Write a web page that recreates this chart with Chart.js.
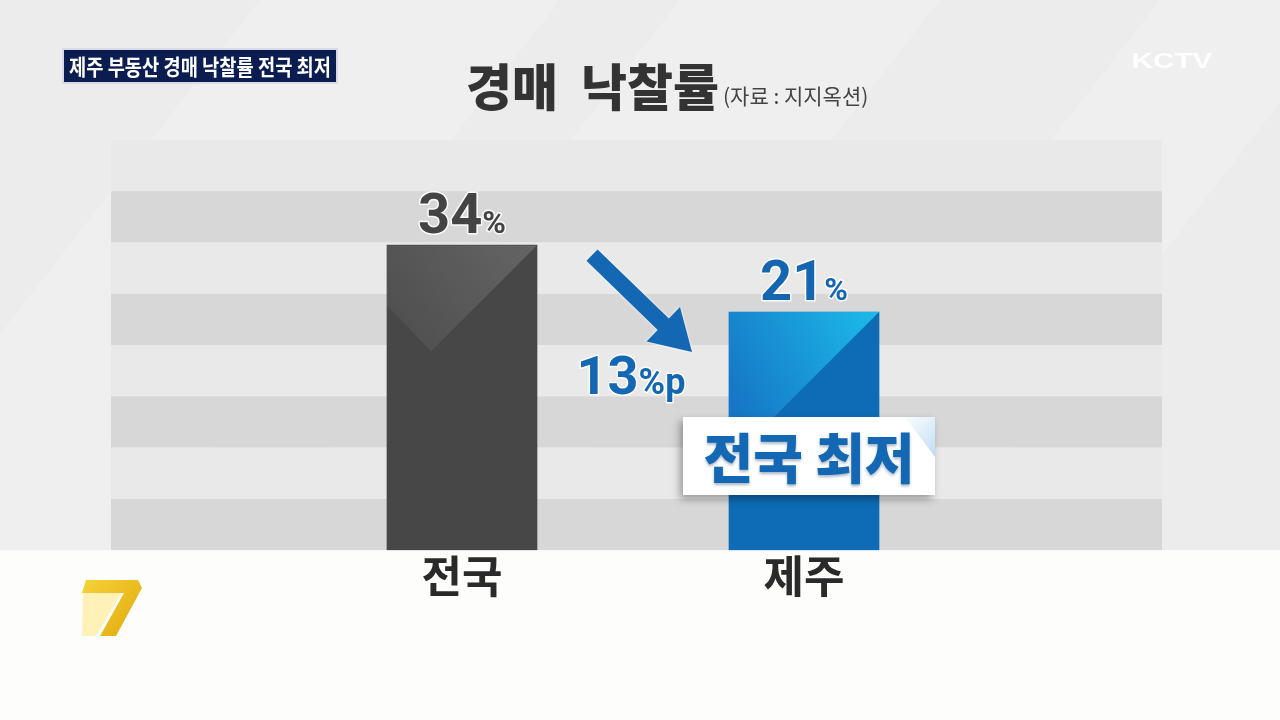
<!DOCTYPE html>
<html>
<head>
<meta charset="utf-8">
<script src="https://cdn.jsdelivr.net/npm/chart.js@4.4.0/dist/chart.umd.min.js"></script>
<style>
  html, body { margin: 0; padding: 0; background: #ededed; }
  #wrap { width: 1280px; height: 720px; }
</style>
</head>
<body>
<div id="wrap"><canvas id="auction_chart" width="1280" height="720"></canvas></div>
<script>
// DATA
const categories = ["전국", "제주"];
const rates = [34, 21];
const barColors = ["#474747", "#0d6cb5"];
const labelColors = ["#444444", "#1466b0"];

// value axis range (the graphic's bars start below zero)
const yMin = -25.2;
const yMax = 54.4;

const headline = "제주 부동산 경매 낙찰률 전국 최저";
const chartTitle = "경매  낙찰률";
const sourceText = "(자료 : 지지옥션)";
const badgeText = "전국 최저";

const KR = '"Noto Sans CJK KR", "Noto Sans", sans-serif';

// BACKGROUND + STRIPES
const backdrop = {
  id: "backdrop",
  beforeDraw(chart) {
    const c = chart.ctx;
    const area = chart.chartArea;
    c.save();
    c.fillStyle = "#ececec";
    c.fillRect(0, 0, 1280, 720);
    // soft diagonal streaks
    c.fillStyle = "rgba(255,255,255,0.18)";
    [[0, 300], [420, 260], [900, 200]].forEach(([x0, w]) => {
      c.beginPath();
      c.moveTo(x0 + 260, 0);
      c.lineTo(x0 + 260 + w, 0);
      c.lineTo(x0 + w - 300, 720);
      c.lineTo(x0 - 300, 720);
      c.closePath();
      c.fill();
    });
    // stripes behind the bars
    const left = 111, right = 1162;
    const band = (area.bottom - area.top) / 8;
    for (let i = 0; i < 8; i++) {
      c.fillStyle = i % 2 === 0 ? "#e9e9e9" : "#d7d7d7";
      c.fillRect(left, area.top + i * band, right - left, band);
    }
    // lower white area
    c.fillStyle = "#fdfdfb";
    c.fillRect(0, area.bottom, 1280, 720 - area.bottom);
    c.restore();
  },
};

// BAR SHADING, LABELS, ARROW, BADGE
const decorations = {
  id: "decorations",
  afterDatasetsDraw(chart) {
    const c = chart.ctx;
    const bars = chart.getDatasetMeta(0).data;
    const area = chart.chartArea;

    // shading on the bars
    bars.forEach((bar, i) => {
      const l = bar.x - bar.width / 2, r = bar.x + bar.width / 2;
      const top = bar.y, bottom = area.bottom;
      c.save();
      c.beginPath();
      c.rect(l, top, r - l, bottom - top);
      c.clip();
      if (i === 0) {
        const g = c.createLinearGradient(r, top, l, top + 110);
        g.addColorStop(0, "rgba(255,255,255,0.16)");
        g.addColorStop(1, "rgba(255,255,255,0.03)");
        c.fillStyle = g;
        c.beginPath();
        c.moveTo(l, top);
        c.lineTo(r, top);
        c.lineTo(l + 44, top + 106);
        c.lineTo(l, top + 60);
        c.closePath();
        c.fill();
      } else {
        const g = c.createLinearGradient(r, top, l, top + 80);
        g.addColorStop(0, "#1cbbea");
        g.addColorStop(1, "#1677c6");
        c.fillStyle = g;
        c.beginPath();
        c.moveTo(l, top);
        c.lineTo(r, top);
        c.lineTo(l, top + (r - l));
        c.closePath();
        c.fill();
      }
      c.restore();
    });

    // value labels "34%" "21%"
    bars.forEach((bar, i) => {
      drawPercent(c, String(rates[i]), "%", bar.x, bar.y - 12, labelColors[i], 56, 32);
    });

    // arrow between the bars
    const b0 = bars[0], b1 = bars[1];
    const sx = b0.x + 130, sy = b0.y + 10;
    const tx = b1.x - 112, ty = b1.y + 40;
    drawArrow(c, sx, sy, tx, ty, "#1467b3");

    // "13%p"
    drawPercent(c, String(rates[0] - rates[1]), "%p", (b0.x + b1.x) / 2 - 2, ty + 42, "#1467b3", 54, 36);

    // badge "전국 최저"
    const bx = 683, by = 417, bw = 252, bh = 78;
    c.save();
    c.shadowColor = "rgba(0,0,0,0.35)";
    c.shadowBlur = 8;
    c.shadowOffsetX = -3;
    c.shadowOffsetY = 4;
    c.fillStyle = "#ffffff";
    c.fillRect(bx, by, bw, bh);
    c.restore();
    c.save();
    const bg = c.createLinearGradient(bx + bw - 40, by, bx + bw, by + 40);
    bg.addColorStop(0, "rgba(200,225,245,0)");
    bg.addColorStop(1, "rgba(170,210,240,0.8)");
    c.fillStyle = bg;
    c.beginPath();
    c.moveTo(bx + bw - 30, by);
    c.lineTo(bx + bw, by);
    c.lineTo(bx + bw, by + 40);
    c.closePath();
    c.fill();
    c.font = "900 54px " + KR;
    c.textAlign = "center";
    c.textBaseline = "middle";
    c.shadowColor = "rgba(0,40,90,0.35)";
    c.shadowBlur = 3;
    c.shadowOffsetY = 2;
    c.fillStyle = "#1467b3";
    c.fillText(badgeText, bx + bw / 2, by + bh / 2 + 2);
    c.restore();
  },
  afterDraw(chart) {
    const c = chart.ctx;
    c.save();
    // headline box
    c.fillStyle = "#d8dbe4";
    c.fillRect(62, 48, 276, 36);
    c.fillStyle = "#0b1c50";
    c.fillRect(64, 50, 272, 32);
    c.fillStyle = "#ffffff";
    c.font = "700 22px " + KR;
    c.textAlign = "center";
    c.textBaseline = "middle";
    c.fillText(headline, 200, 67, 262);

    // title
    c.fillStyle = "#333333";
    c.font = "900 50px " + KR;
    c.textAlign = "left";
    c.textBaseline = "alphabetic";
    c.fillText(chartTitle, 466, 106);
    c.fillStyle = "#444444";
    c.font = "400 21px " + KR;
    c.fillText(sourceText, 723, 104);

    // KCTV
    c.fillStyle = "rgba(255,255,255,0.9)";
    c.font = "700 22px 'Liberation Sans', sans-serif";
    c.textAlign = "center";
    c.save();
    c.translate(1172, 68);
    c.scale(1.35, 1);
    c.fillText("KCTV", 0, 0);
    c.restore();

    // yellow 7 logo
    const g = c.createLinearGradient(80, 580, 140, 636);
    g.addColorStop(0, "#f5d43a");
    g.addColorStop(1, "#e3a90c");
    c.fillStyle = "#fff1b8";
    c.beginPath();
    c.moveTo(83, 592); c.lineTo(122, 592); c.lineTo(96, 636); c.lineTo(82, 636);
    c.closePath(); c.fill();
    c.fillStyle = g;
    c.beginPath();
    c.moveTo(86, 580); c.lineTo(138, 580); c.lineTo(142, 588);
    c.lineTo(116, 636); c.lineTo(100, 636); c.lineTo(124, 593); c.lineTo(82, 593);
    c.closePath(); c.fill();
    c.restore();
  },
};

function drawPercent(c, num, suffix, cx, baseline, color, bigSize, smallSize) {
  c.save();
  c.font = "700 " + bigSize + "px Roboto, 'Liberation Sans', sans-serif";
  const w1 = c.measureText(num).width;
  c.font = "700 " + smallSize + "px Roboto, 'Liberation Sans', sans-serif";
  const w2 = c.measureText(suffix).width;
  const x0 = cx - (w1 + w2) / 2;
  c.textAlign = "left";
  c.textBaseline = "alphabetic";
  c.lineJoin = "round";
  c.strokeStyle = "rgba(255,255,255,0.9)";
  c.lineWidth = 3;
  c.fillStyle = color;
  c.font = "700 " + bigSize + "px Roboto, 'Liberation Sans', sans-serif";
  c.strokeText(num, x0, baseline);
  c.fillText(num, x0, baseline);
  c.font = "700 " + smallSize + "px Roboto, 'Liberation Sans', sans-serif";
  c.strokeText(suffix, x0 + w1, baseline);
  c.fillText(suffix, x0 + w1, baseline);
  c.restore();
}

function drawArrow(c, sx, sy, tx, ty, color) {
  const dx = tx - sx, dy = ty - sy;
  const len = Math.hypot(dx, dy);
  const ux = dx / len, uy = dy / len;
  const px = -uy, py = ux;
  const headLen = 40, headHalf = 24, shaft = 8;
  const hx = tx - ux * headLen, hy = ty - uy * headLen;
  c.save();
  c.shadowColor = "rgba(255,255,255,0.9)";
  c.shadowBlur = 3;
  c.fillStyle = color;
  c.beginPath();
  c.moveTo(sx + px * shaft, sy + py * shaft);
  c.lineTo(hx + px * shaft, hy + py * shaft);
  c.lineTo(hx + px * headHalf, hy + py * headHalf);
  c.lineTo(tx, ty);
  c.lineTo(hx - px * headHalf, hy - py * headHalf);
  c.lineTo(hx - px * shaft, hy - py * shaft);
  c.lineTo(sx - px * shaft, sy - py * shaft);
  c.closePath();
  c.fill();
  c.restore();
}

// CHART
const ctx = document.getElementById("auction_chart").getContext("2d");
const my_chart = new Chart(ctx, {
  type: "bar",
  data: {
    labels: categories,
    datasets: [
      {
        label: "낙찰률",
        data: rates,
        backgroundColor: barColors,
        borderWidth: 0,
        barThickness: 150,
        base: yMin,
      },
    ],
  },
  options: {
    responsive: false,
    animation: false,
    layout: { padding: { left: 291, right: 305, top: 140, bottom: 117 } },
    plugins: { legend: { display: false }, tooltip: { enabled: false } },
    scales: {
      y: { display: false, min: yMin, max: yMax },
      x: {
        grid: { display: false, drawTicks: false },
        border: { display: false },
        ticks: {
          padding: 0,
          color: "#2a2a2a",
          font: { family: KR, size: 44, weight: "bold" },
        },
      },
    },
  },
  plugins: [backdrop, decorations],
});
</script>
</body>
</html>
